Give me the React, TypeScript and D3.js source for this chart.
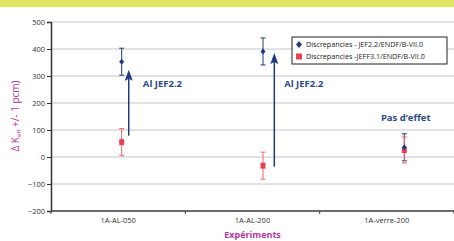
import * as d3 from 'd3';
import React, { useEffect, useRef } from 'react';

const categories = ['1A-AL-050', '1A-AL-200', '1A-verre-200'];
const jef22 = [353, 391, 36];
const jeff31 = [55, -32, 26];
const errJef22 = [50, 50, 50];
const errJeff31 = [50, 50, 48];
const yTicks = [-200, -100, 0, 100, 200, 300, 400, 500];
const legendLabels = [
  'Discrepancies - JEF2.2/ENDF/B-VII.0',
  'Discrepancies  -JEFF3.1/ENDF/B-VII.0',
];
// arrows: position along the category axis, from value, to value
const arrowPos = [0.55, 1.58];
const arrowFrom = [79, -36];
const arrowTo = [323, 385];
const notes = ['Al JEF2.2', 'Al JEF2.2', 'Pas d\u2019effet'];
const notePos = [0.65, 1.65, 2.51];
const noteVal = [272, 272, 145];
const noteAnchor = ['start', 'start', 'middle'];

const W = 454;
const H = 241;
const NAVY = '#1f3a80';
const RED = '#ea4150';
const MAGENTA = '#b8369c';
const FONT = '"Open Sans", "Noto Sans", sans-serif';

const App = () => {
  const ref = useRef<SVGSVGElement>(null);

  useEffect(() => {
    const svg = d3.select(ref.current);
    svg.selectAll('*').remove();

    const left = 51;
    const right = 454;
    const top = 22;
    const bottom = 211;

    const y = d3.scaleLinear().domain([-200, 500]).range([bottom, top]);
    const band = d3.scaleBand().domain(categories).range([left, right]);
    // markers sit on a slightly wider scale than the category bands
    const xp = d3.scaleLinear().domain([0, 3]).range([left, 475]);

    svg.append('rect').attr('x', 0).attr('y', 0).attr('width', W).attr('height', 7).attr('fill', '#e1e660');

    // grid
    svg
      .selectAll('.grid')
      .data(yTicks)
      .join('line')
      .attr('x1', left)
      .attr('x2', right)
      .attr('y1', (d) => y(d))
      .attr('y2', (d) => y(d))
      .attr('stroke', '#d9d9d9')
      .attr('stroke-width', 1.5);

    // y axis
    const yAxis = svg
      .append('g')
      .attr('transform', `translate(${left},0)`)
      .call(d3.axisLeft(y).tickValues(yTicks).tickSize(4).tickPadding(2));
    yAxis.select('.domain').attr('stroke', '#333').attr('stroke-width', 1.5);
    yAxis.selectAll('line').attr('stroke', '#333');
    yAxis.selectAll('text').attr('font-family', FONT).attr('font-size', 7.5).attr('fill', '#333');

    // x axis
    const bounds = [left, ...categories.map((c) => band(c)! + band.bandwidth())];
    svg.append('line').attr('x1', left).attr('x2', right).attr('y1', bottom).attr('y2', bottom).attr('stroke', '#444').attr('stroke-width', 1.5);
    svg
      .selectAll('.xtick')
      .data(bounds)
      .join('line')
      .attr('x1', (d) => d)
      .attr('x2', (d) => d)
      .attr('y1', bottom)
      .attr('y2', bottom + 3)
      .attr('stroke', '#444');
    svg
      .selectAll('.xlab')
      .data(categories)
      .join('text')
      .attr('x', (d) => band(d)! + band.bandwidth() / 2)
      .attr('y', 223)
      .attr('text-anchor', 'middle')
      .attr('font-family', FONT)
      .attr('font-size', 7.5)
      .attr('fill', '#333')
      .text((d) => d);

    // titles
    svg
      .append('text')
      .attr('x', (left + right) / 2)
      .attr('y', 237.5)
      .attr('text-anchor', 'middle')
      .attr('font-family', FONT)
      .attr('font-weight', 'bold')
      .attr('font-size', 9)
      .attr('fill', MAGENTA)
      .text('Expériments');
    const yt = svg
      .append('text')
      .attr('transform', 'translate(19,116) rotate(-90)')
      .attr('text-anchor', 'middle')
      .attr('font-family', FONT)
      .attr('font-size', 10)
      .attr('fill', MAGENTA);
    yt.append('tspan').text('Δ K');
    yt.append('tspan').attr('font-size', 6).attr('dy', 2).text('eff');
    yt.append('tspan').attr('dy', -2).text(' +/- 1 pcm)');

    // arrows
    const defs = svg.append('defs');
    defs
      .append('marker')
      .attr('id', 'ah')
      .attr('viewBox', '0 0 8 11')
      .attr('refX', 4)
      .attr('refY', 9)
      .attr('markerWidth', 8)
      .attr('markerHeight', 11)
      .attr('markerUnits', 'userSpaceOnUse')
      .attr('orient', '0')
      .append('path')
      .attr('d', 'M0,11 L4,0 L8,11 L4,9 Z')
      .attr('fill', NAVY);
    svg
      .selectAll('.arrow')
      .data(arrowPos)
      .join('line')
      .attr('x1', (d) => xp(d))
      .attr('x2', (d) => xp(d))
      .attr('y1', (_, i) => y(arrowFrom[i]))
      .attr('y2', (_, i) => y(arrowTo[i]) + 9)
      .attr('stroke', NAVY)
      .attr('stroke-width', 1.5)
      .attr('marker-end', 'url(#ah)');

    svg
      .selectAll('.note')
      .data(notes)
      .join('text')
      .attr('x', (_, i) => xp(notePos[i]))
      .attr('y', (_, i) => y(noteVal[i]))
      .attr('dy', '0.35em')
      .attr('text-anchor', (_, i) => noteAnchor[i])
      .attr('font-family', FONT)
      .attr('font-weight', 'bold')
      .attr('font-size', 9.5)
      .attr('fill', '#2a4a8c')
      .text((d) => d);

    // error bars + markers
    const drawErr = (vals: number[], errs: number[], color: string) => {
      const g = svg.append('g');
      vals.forEach((v, i) => {
        const cx = xp(i + 0.5);
        g.append('line').attr('x1', cx).attr('x2', cx).attr('y1', y(v - errs[i])).attr('y2', y(v + errs[i])).attr('stroke', color).attr('stroke-width', 1);
        [v - errs[i], v + errs[i]].forEach((e) =>
          g.append('line').attr('x1', cx - 2.5).attr('x2', cx + 2.5).attr('y1', y(e)).attr('y2', y(e)).attr('stroke', color).attr('stroke-width', 1)
        );
      });
    };
    drawErr(jef22, errJef22, NAVY);
    drawErr(jeff31, errJeff31, '#ee6070');

    svg
      .selectAll('.sq')
      .data(jeff31)
      .join('rect')
      .attr('x', (_, i) => xp(i + 0.5) - 2.5)
      .attr('y', (d) => y(d) - 3)
      .attr('width', 5)
      .attr('height', 6)
      .attr('fill', RED);
    svg
      .selectAll('.dia')
      .data(jef22)
      .join('path')
      .attr('d', (d, i) => {
        const cx = xp(i + 0.5);
        const cy = y(d);
        return `M${cx},${cy - 3}L${cx + 2.5},${cy}L${cx},${cy + 3}L${cx - 2.5},${cy}Z`;
      })
      .attr('fill', NAVY);

    // legend
    const lg = svg.append('g').attr('transform', 'translate(292,37)');
    lg.append('rect').attr('width', 155).attr('height', 27).attr('fill', '#fff').attr('stroke', '#222').attr('stroke-width', 1);
    legendLabels.forEach((t, i) => {
      const cy = 7.5 + i * 12;
      if (i === 0) lg.append('path').attr('d', `M7,${cy - 3.5}L10,${cy}L7,${cy + 3.5}L4,${cy}Z`).attr('fill', NAVY);
      else lg.append('rect').attr('x', 4).attr('y', cy - 3).attr('width', 6).attr('height', 6).attr('fill', RED);
      lg.append('text')
        .attr('x', 14)
        .attr('y', cy)
        .attr('dy', '0.35em')
        .attr('font-family', FONT)
        .attr('font-size', 7.2)
        .attr('fill', '#222')
        .text(t);
    });
  }, []);

  return (
    <svg ref={ref} width={W} height={H} style={{ position: 'absolute', left: 0, top: 0, background: '#fff' }}></svg>
  );
};

export default App;
